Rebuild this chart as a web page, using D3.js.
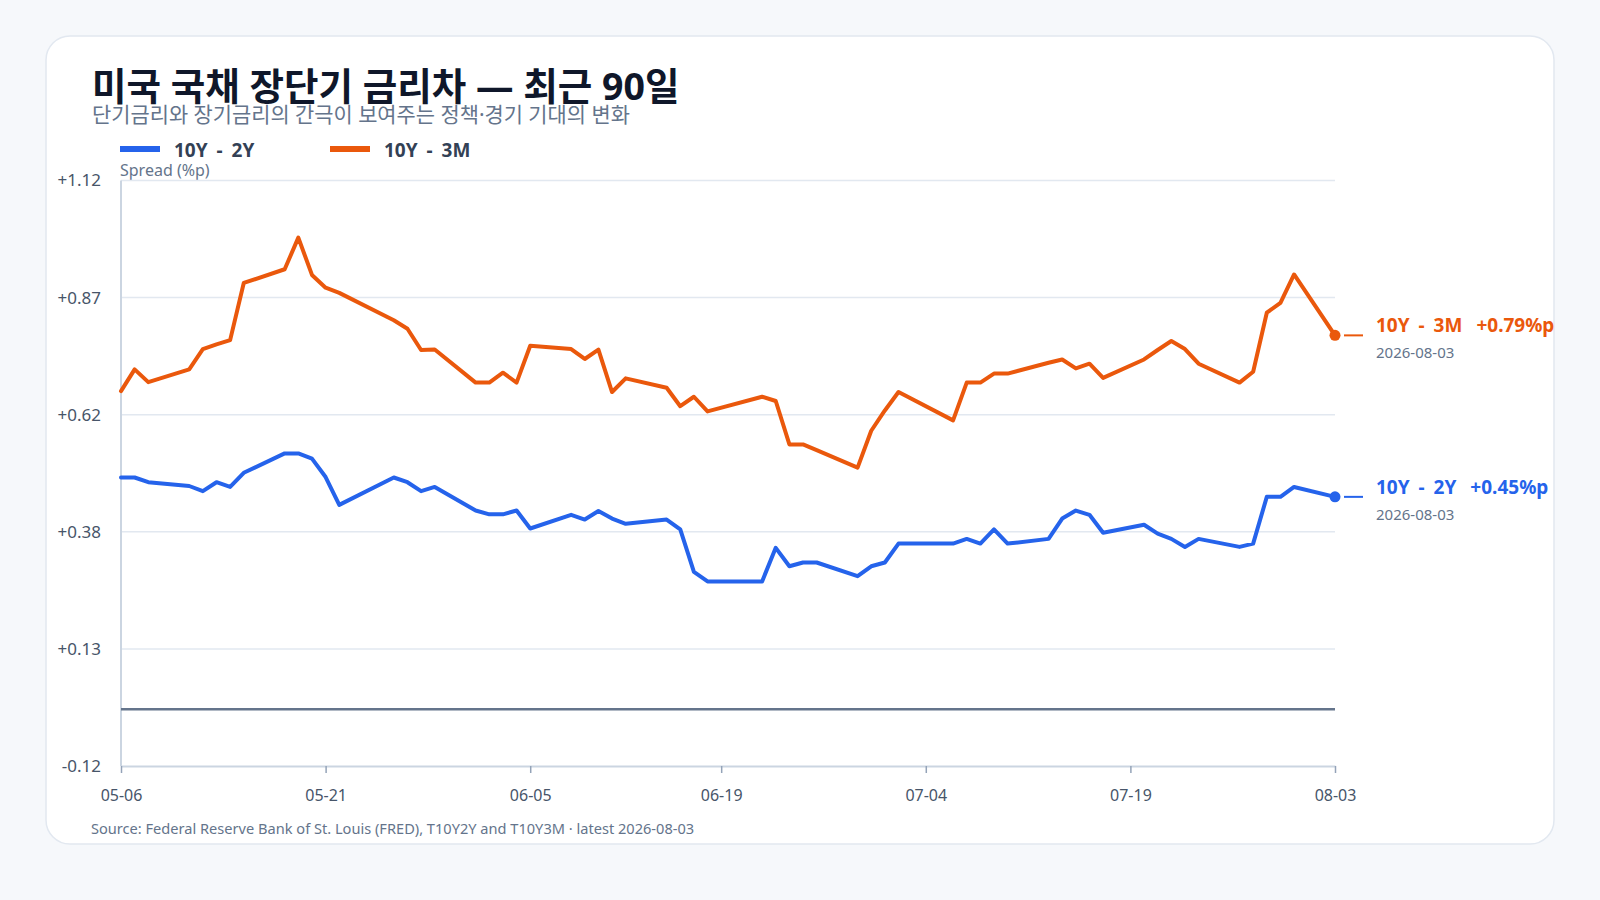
<!DOCTYPE html>
<html>
<head>
<meta charset="utf-8">
<script src="https://cdn.jsdelivr.net/npm/d3@7"></script>
<style>
  body { margin: 0; background: #f6f8fb; }
  svg text { font-family: "Noto Sans", "Noto Sans CJK KR", sans-serif; }
</style>
</head>
<body>
<svg id="chart" width="1600" height="900"></svg>
<script>
// business days, 2026
var dates = [
  "2026-05-06", "2026-05-07", "2026-05-08", "2026-05-11", "2026-05-12", "2026-05-13", "2026-05-14", "2026-05-15",
  "2026-05-18", "2026-05-19", "2026-05-20", "2026-05-21", "2026-05-22", "2026-05-26", "2026-05-27", "2026-05-28",
  "2026-05-29", "2026-06-01", "2026-06-02", "2026-06-03", "2026-06-04", "2026-06-05", "2026-06-08", "2026-06-09",
  "2026-06-10", "2026-06-11", "2026-06-12", "2026-06-15", "2026-06-16", "2026-06-17", "2026-06-18", "2026-06-22",
  "2026-06-23", "2026-06-24", "2026-06-25", "2026-06-26", "2026-06-29", "2026-06-30", "2026-07-01", "2026-07-02",
  "2026-07-06", "2026-07-07", "2026-07-08", "2026-07-09", "2026-07-10", "2026-07-13", "2026-07-14", "2026-07-15",
  "2026-07-16", "2026-07-17", "2026-07-20", "2026-07-21", "2026-07-22", "2026-07-23", "2026-07-24", "2026-07-27",
  "2026-07-28", "2026-07-29", "2026-07-30", "2026-07-31", "2026-08-03"
];

var spread2y = [
  0.491, 0.491, 0.481, 0.473, 0.462, 0.481, 0.471, 0.501,
  0.542, 0.542, 0.531, 0.492, 0.433, 0.491, 0.481, 0.462,
  0.471, 0.421, 0.413, 0.413, 0.421, 0.383, 0.412, 0.402,
  0.420, 0.404, 0.393, 0.402, 0.381, 0.291, 0.271, 0.271,
  0.342, 0.303, 0.311, 0.311, 0.282, 0.303, 0.311, 0.351,
  0.351, 0.361, 0.351, 0.381, 0.351, 0.361, 0.404, 0.421,
  0.412, 0.374, 0.391, 0.372, 0.361, 0.344, 0.361, 0.344,
  0.351, 0.450, 0.450, 0.471, 0.450
];

var spread3m = [
  0.674, 0.720, 0.693, 0.720, 0.763, 0.773, 0.782, 0.903,
  0.932, 0.999, 0.920, 0.893, 0.882, 0.824, 0.806, 0.761,
  0.762, 0.692, 0.692, 0.713, 0.692, 0.770, 0.763, 0.742,
  0.762, 0.672, 0.701, 0.681, 0.642, 0.662, 0.631, 0.662,
  0.653, 0.561, 0.561, 0.549, 0.512, 0.590, 0.633, 0.672,
  0.612, 0.692, 0.692, 0.711, 0.711, 0.734, 0.741, 0.722,
  0.732, 0.702, 0.741, 0.761, 0.780, 0.763, 0.732, 0.692,
  0.715, 0.840, 0.861, 0.921, 0.792
];

var seriesNames = ["10Y - 2Y", "10Y - 3M"];
var seriesColors = ["#2563eb", "#ea580c"];

var yTicks = [-0.12, 0.128, 0.376, 0.624, 0.872, 1.12];
var yTickLabels = ["-0.12", "+0.13", "+0.38", "+0.62", "+0.87", "+1.12"];
var xTickDates = ["2026-05-06", "2026-05-21", "2026-06-05", "2026-06-19", "2026-07-04", "2026-07-19", "2026-08-03"];

var parseDate = d3.timeParse("%Y-%m-%d");
var fmtDay = d3.timeFormat("%m-%d");

var svg = d3.select("#chart");

// card
svg.append("rect")
    .attr("x", 46).attr("y", 36)
    .attr("width", 1508).attr("height", 808)
    .attr("rx", 24)
    .attr("fill", "#ffffff")
    .attr("stroke", "#e2e8f0")
    .attr("stroke-width", 1.5);

svg.append("text")
    .attr("x", 92).attr("y", 100)
    .attr("font-size", 37.5)
    .attr("font-weight", 700)
    .attr("fill", "#0f172a")
    .text("미국 국채 장단기 금리차 — 최근 90일");

svg.append("text")
    .attr("x", 92).attr("y", 122)
    .attr("font-size", 20.9)
    .attr("fill", "#64748b")
    .text("단기금리와 장기금리의 간극이 보여주는 정책·경기 기대의 변화");

var plotLeft = 121, plotRight = 1335, plotTop = 180.5, plotBottom = 766;

var x = d3.scaleTime()
    .domain([parseDate(dates[0]), parseDate(dates[dates.length - 1])])
    .range([plotLeft, plotRight]);

var y = d3.scaleLinear()
    .domain([-0.12, 1.12])
    .range([plotBottom, plotTop]);

// legend
var legendX = [120, 330];
seriesNames.forEach(function(name, i) {
    svg.append("line")
        .attr("x1", legendX[i]).attr("x2", legendX[i] + 40)
        .attr("y1", 149).attr("y2", 149)
        .attr("stroke", seriesColors[i])
        .attr("stroke-width", 6);
    svg.append("text")
        .attr("x", legendX[i] + 54).attr("y", 157)
        .attr("font-size", 19)
        .attr("font-weight", 700)
        .attr("word-spacing", 4)
        .attr("fill", "#334155")
        .text(name);
});

svg.append("text")
    .attr("x", 120).attr("y", 176)
    .attr("font-size", 16)
    .attr("fill", "#64748b")
    .text("Spread (%p)");

// grid
svg.append("g").selectAll("line")
    .data(yTicks.slice(1))
    .join("line")
    .attr("x1", plotLeft).attr("x2", plotRight)
    .attr("y1", function(d) { return y(d); })
    .attr("y2", function(d) { return y(d); })
    .attr("stroke", "#e2e8f0")
    .attr("stroke-width", 1.5);

svg.append("g").selectAll("text")
    .data(yTicks)
    .join("text")
    .attr("x", 101)
    .attr("y", function(d) { return y(d); })
    .attr("dy", "0.35em")
    .attr("text-anchor", "end")
    .attr("font-size", 17)
    .attr("fill", "#475569")
    .text(function(d, i) { return yTickLabels[i]; });

// y axis line
svg.append("line")
    .attr("x1", plotLeft).attr("x2", plotLeft)
    .attr("y1", plotTop).attr("y2", plotBottom)
    .attr("stroke", "#cbd5e1")
    .attr("stroke-width", 2);

// x axis
var xAxis = svg.append("g")
    .attr("transform", "translate(0," + plotBottom + ")")
    .call(d3.axisBottom(x)
        .tickValues(xTickDates.map(parseDate))
        .tickFormat(fmtDay)
        .tickSize(7)
        .tickSizeOuter(0)
        .tickPadding(17));
xAxis.attr("font-family", null);
xAxis.select(".domain").attr("stroke", "#cbd5e1").attr("stroke-width", 2);
xAxis.selectAll(".tick line").attr("stroke", "#94a3b8").attr("stroke-width", 1.5);
xAxis.selectAll(".tick text")
    .attr("font-size", 16)
    .attr("fill", "#475569");

// zero line
svg.append("line")
    .attr("x1", plotLeft).attr("x2", plotRight)
    .attr("y1", y(0)).attr("y2", y(0))
    .attr("stroke", "#64748b")
    .attr("stroke-width", 2.5);

// series lines
var allSeries = [spread2y, spread3m];
var line = d3.line()
    .x(function(d) { return x(d.date); })
    .y(function(d) { return y(d.value); });

allSeries.forEach(function(values, i) {
    var pts = dates.map(function(d, j) { return { date: parseDate(d), value: values[j] }; });
    svg.append("path")
        .datum(pts)
        .attr("d", line)
        .attr("fill", "none")
        .attr("stroke", seriesColors[i])
        .attr("stroke-width", 4)
        .attr("stroke-linejoin", "round")
        .attr("stroke-linecap", "round");

    var last = pts[pts.length - 1];
    var lx = x(last.date), ly = y(last.value);
    svg.append("circle")
        .attr("cx", lx).attr("cy", ly).attr("r", 5.5)
        .attr("fill", seriesColors[i]);
    svg.append("line")
        .attr("x1", lx + 9).attr("x2", lx + 28)
        .attr("y1", ly).attr("y2", ly)
        .attr("stroke", seriesColors[i])
        .attr("stroke-width", 2);

    var label = svg.append("text")
        .attr("x", lx + 41).attr("y", ly - 3)
        .attr("font-size", 19)
        .attr("font-weight", 700)
        .attr("word-spacing", 4)
        .attr("fill", seriesColors[i]);
    label.append("tspan").text(seriesNames[i]);
    label.append("tspan").attr("dx", 14)
        .text("+" + last.value.toFixed(2) + "%p");

    svg.append("text")
        .attr("x", lx + 41).attr("y", ly + 23)
        .attr("font-size", 15)
        .attr("fill", "#64748b")
        .text(dates[dates.length - 1]);
});

svg.append("text")
    .attr("x", 91).attr("y", 834)
    .attr("font-size", 14.6)
    .attr("fill", "#64748b")
    .text("Source: Federal Reserve Bank of St. Louis (FRED), T10Y2Y and T10Y3M · latest " + dates[dates.length - 1]);
</script>
</body>
</html>
